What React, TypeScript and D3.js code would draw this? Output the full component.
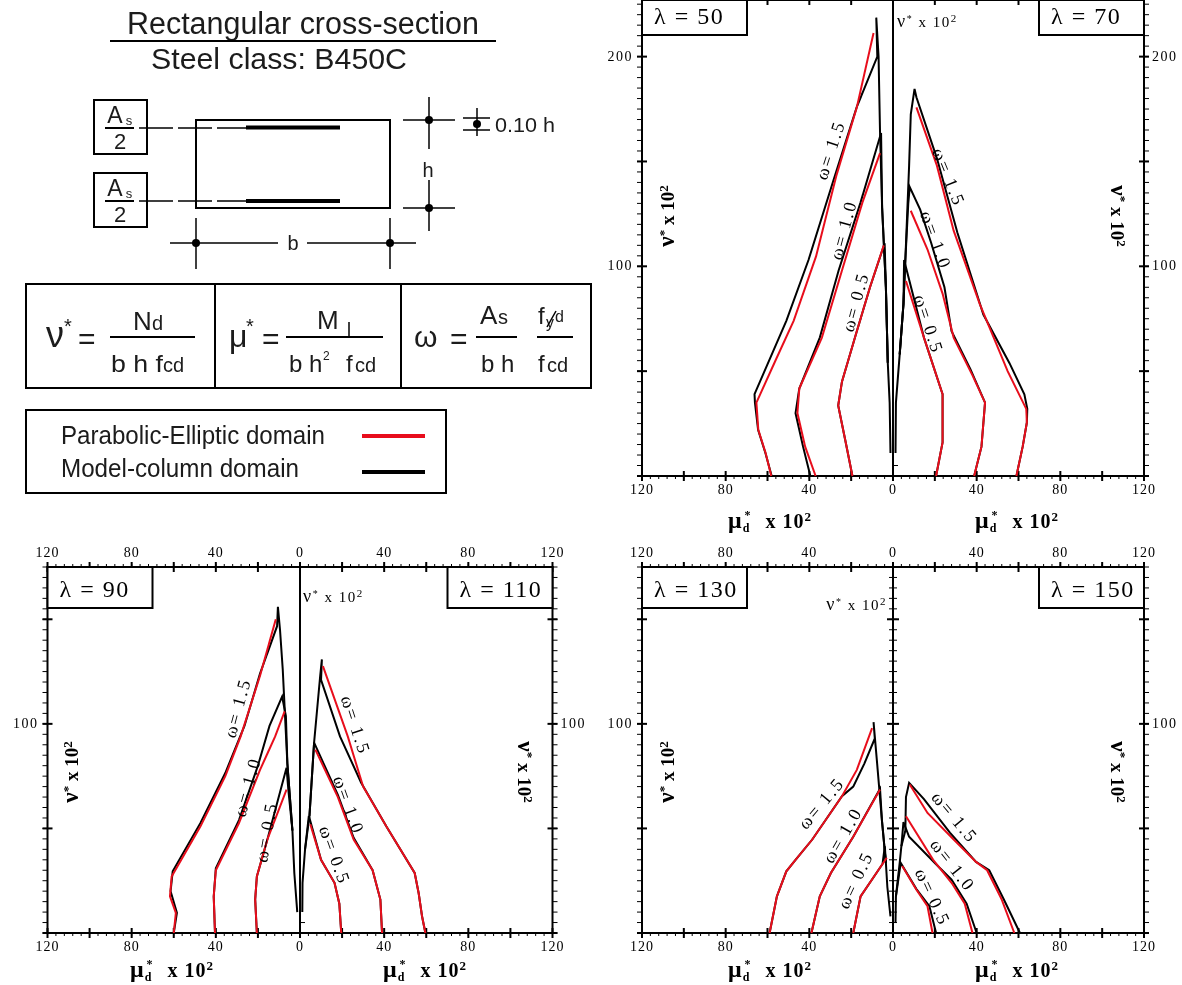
import { useEffect, useRef } from "react";
import * as d3 from "d3";

type Pt = [number, number];

// [mu x 100, nu x 100]. Black curves run up to the peak and back down near the axis.
const l50Black15: Pt[] = [[58, 0], [61, 11], [64.5, 22], [66, 35], [66.2, 39], [51, 74], [40.4, 103], [28.8, 140], [17.3, 176], [7.5, 200], [8, 218.6], [6.9, 200], [6.2, 164], [5.2, 128], [3.4, 90], [2.5, 54], [1.6, 35], [1.2, 11]];
const l50Red15: Pt[] = [[58.2, 0], [60.9, 11], [64.4, 22], [65.3, 35], [56.4, 54.6], [47.5, 74], [36.8, 104.7], [27, 143.5], [17.3, 175.8], [9.3, 211.3]];
const l50Black10: Pt[] = [[39.5, 0], [43, 14], [46.6, 30], [44.8, 41.7], [35, 66], [26, 98], [15.5, 130.5], [5.7, 163.6], [5.2, 128], [3.4, 90], [2.5, 54]];
const l50Red10: Pt[] = [[37, 0], [42, 14], [45.7, 30], [44.8, 41.7], [34, 66], [24.4, 98], [14.6, 130.5], [6.2, 154]];
const l50Black05: Pt[] = [[19.4, 0], [22.6, 16], [26.2, 33.6], [24.4, 45], [17.3, 69], [11, 90], [4, 111], [3.4, 90], [2.5, 54]];
const l50Red05: Pt[] = [[19.4, 0], [22.6, 16], [26.2, 33.6], [24.4, 45], [17.3, 69], [11, 90], [4.4, 110]];

const l70Black15: Pt[] = [[59, 0], [62, 14], [64, 25.5], [64.2, 32], [62.8, 39], [55.7, 53.8], [43.2, 77], [30.8, 116], [21, 151.5], [11.2, 180.6], [10.3, 184.6], [8.5, 172.5], [7.7, 148], [5.9, 103], [5, 82], [3.2, 58], [1.4, 35], [1.2, 11]];
const l70Red15: Pt[] = [[59, 0], [62, 14], [64, 25.5], [63.7, 32], [54.8, 50], [41.5, 82], [29, 117], [21, 148], [11.2, 175.8]];
const l70Black10: Pt[] = [[38.8, 0], [42.3, 14], [44, 35], [37, 51], [28, 69], [24.6, 90], [18.3, 111], [13, 127], [8, 137.8], [7.3, 130], [5.9, 103], [5, 82], [3.2, 58]];
const l70Red10: Pt[] = [[38.8, 0], [42.3, 14], [44, 35], [38, 48], [29, 66], [23.7, 87], [16.5, 108], [8.5, 126.5]];
const l70Black05: Pt[] = [[20.6, 0], [23.7, 16], [23.7, 39], [14.8, 66], [5.3, 103], [5, 82], [3.2, 58]];
const l70Red05: Pt[] = [[20.6, 0], [23.7, 16], [23.7, 39], [14.8, 66], [6.2, 93]];

const l90Black15: Pt[] = [[60, 0], [58.5, 9.6], [61.5, 20], [60.5, 29.5], [47.3, 52.6], [35.5, 76.5], [26.4, 99], [19, 124], [10.9, 146.7], [10.5, 156], [9.5, 145], [8.2, 126], [6, 81], [3.6, 49], [2.7, 28.7], [1.3, 10]];
const l90Red15: Pt[] = [[60, 0], [59, 9.6], [61.8, 17.5], [61, 27], [47.3, 51], [35.5, 75], [28.2, 94], [19, 123], [11.5, 150]];
const l90Black10: Pt[] = [[40.4, 0], [41, 17.5], [40, 31], [29, 54], [20, 80], [14.5, 99], [8.5, 113], [6.7, 103.7], [6, 81], [3.6, 49]];
const l90Red10: Pt[] = [[40.4, 0], [41, 17.5], [40, 30], [29, 52.6], [19, 78], [11.8, 94], [7.3, 106]];
const l90Black05: Pt[] = [[20.5, 0], [21.3, 16], [20.5, 27], [15.5, 44.7], [6.4, 79], [5.5, 68], [3.6, 49]];
const l90Red05: Pt[] = [[20.5, 0], [21.3, 16], [20.5, 27], [15.5, 44.7], [6.4, 68.6]];

const l110Black15: Pt[] = [[59.6, 0], [58, 8], [56.4, 19], [54.5, 28.7], [41, 51], [29, 72], [19, 94], [10, 121], [10.4, 130.8], [9.6, 123], [6.7, 91], [4.5, 56], [2.4, 40], [1.2, 24], [1.1, 10]];
const l110Red15: Pt[] = [[59.6, 0], [58, 8], [56.4, 19], [54.5, 28.7], [41, 51], [30, 70], [22.7, 94], [10.9, 127.6]];
const l110Black10: Pt[] = [[39, 0], [38.2, 16], [34.5, 30], [25.5, 45.5], [18, 66], [6.7, 91], [5.5, 72], [4.5, 56]];
const l110Red10: Pt[] = [[39, 0], [38.2, 16], [34.5, 30], [25.5, 44.7], [18, 65], [7.3, 87.7]];
const l110Black05: Pt[] = [[19.6, 0], [18.7, 14], [16.4, 24], [10, 35], [4.2, 56], [2.4, 40]];
const l110Red05: Pt[] = [[19.6, 0], [18.7, 14], [16.4, 24], [10, 35], [4.9, 52]];

const l130Black15: Pt[] = [[59, 0], [55.5, 17.5], [51, 29.5], [46.6, 35], [38.6, 44.7], [24.4, 65.4], [19, 70], [13.7, 81], [8.7, 93], [9.3, 100.8], [7.5, 80], [5.3, 54], [3.4, 33.5], [2.7, 22], [1.2, 8]];
const l130Red15: Pt[] = [[59, 0], [55.5, 17.5], [51, 29.5], [46.6, 35], [38.6, 44.7], [24.4, 65.4], [17.3, 78], [10, 98]];
const l130Black10: Pt[] = [[39, 0], [35, 17.5], [29.7, 28.7], [19, 46], [6.2, 69], [5.3, 54], [3.4, 33.5]];
const l130Red10: Pt[] = [[39, 0], [35, 17.5], [29.7, 28.7], [19, 46], [6.2, 68.6]];
const l130Black05: Pt[] = [[19, 0], [15.5, 17.5], [5, 33], [3.9, 41.5], [3.4, 33.5]];
const l130Red05: Pt[] = [[19, 0], [15.5, 17.5], [3, 36]];

const l150Black15: Pt[] = [[60.7, 0], [53, 16], [46, 30], [39.7, 34], [27.2, 48], [14.8, 64], [7.7, 71.8], [6.2, 65], [5.9, 49], [4, 41.5], [3.2, 33.5], [1.4, 17.5], [1.2, 5]];
const l150Red15: Pt[] = [[58, 0], [52, 16], [45, 30], [39.7, 34], [29, 44.7], [16.5, 57.4], [8, 71]];
const l150Black10: Pt[] = [[40, 0], [35.2, 14], [28, 25.5], [20, 33.5], [7.7, 46], [5, 53], [4, 41.5]];
const l150Red10: Pt[] = [[38, 0], [34.3, 14], [28, 24], [19.2, 35], [6.2, 55.8]];
const l150Black05: Pt[] = [[20.6, 0], [17.4, 12.8], [11.2, 21], [3.7, 33.5], [1.4, 17.5]];
const l150Red05: Pt[] = [[18.9, 0], [16.5, 12.8], [11.2, 20.7], [4.4, 32]];

const muMajor = d3.range(-120, 121, 20);
const muMinor = d3.range(-120, 121, 4);
const muLabels = [-120, -80, -40, 0, 40, 80, 120];
const omegaNames = ["1.5", "1.0", "0.5"];
const legendNames = ["Parabolic-Elliptic domain", "Model-column domain"];
const legendColors = ["#e8111c", "#000"];

const halves = [
  { lambda: 50, sign: -1, black: [l50Black15, l50Black10, l50Black05], red: [l50Red15, l50Red10, l50Red05] },
  { lambda: 70, sign: 1, black: [l70Black15, l70Black10, l70Black05], red: [l70Red15, l70Red10, l70Red05] },
  { lambda: 90, sign: -1, black: [l90Black15, l90Black10, l90Black05], red: [l90Red15, l90Red10, l90Red05] },
  { lambda: 110, sign: 1, black: [l110Black15, l110Black10, l110Black05], red: [l110Red15, l110Red10, l110Red05] },
  { lambda: 130, sign: -1, black: [l130Black15, l130Black10, l130Black05], red: [l130Red15, l130Red10, l130Red05] },
  { lambda: 150, sign: 1, black: [l150Black15, l150Black10, l150Black05], red: [l150Red15, l150Red10, l150Red05] },
];

const panels = [
  {
    left: 642, right: 1144, top: 0, bottom: 476, yMax: 227, yLabels: [100, 200], topLabels: false, centerTicks: false,
    lambdas: [0, 1], boxH: 35, nu: [897, 27, "start"], yTitle: [667, 1118, 216], muTitle: [770, 1017, 523],
    omega: [[830, 150, -72], [843, 230, -75], [855, 302, -75], [949, 177, 68], [936, 240, 70], [929, 324, 72]],
  },
  {
    left: 47.5, right: 552.5, top: 567, bottom: 933, yMax: 175, yLabels: [100], topLabels: true, centerTicks: false,
    lambdas: [2, 3], boxH: 41, nu: [303, 602, "start"], yTitle: [71, 525, 772], muTitle: [172, 425, 972],
    omega: [[237, 708, -75], [247, 787, -75], [266, 832, -80], [356, 725, 72], [349, 805, 70], [335, 855, 70]],
  },
  {
    left: 642, right: 1144, top: 567, bottom: 933, yMax: 175, yLabels: [100], topLabels: true, centerTicks: true,
    lambdas: [4, 5], boxH: 41, nu: [887, 610, "end"], yTitle: [667, 1118, 772], muTitle: [770, 1017, 972],
    omega: [[821, 803, -50], [842, 835, -60], [855, 880, -65], [955, 817, 50], [953, 865, 52], [933, 897, 65]],
  },
];

const serif = "'Liberation Serif', serif";
const sans = "'Liberation Sans', sans-serif";

export default function App() {
  const svgRef = useRef<SVGSVGElement>(null);

  useEffect(() => {
    const svg = d3.select(svgRef.current);
    svg.selectAll("*").remove();

    svg
      .append("defs")
      .append("filter")
      .attr("id", "soft")
      .attr("filterUnits", "userSpaceOnUse")
      .attr("x", 0)
      .attr("y", 0)
      .attr("width", 1182)
      .attr("height", 985)
      .append("feGaussianBlur")
      .attr("stdDeviation", 0.6);

    const root = svg.append("g").attr("filter", "url(#soft)");

    panels.forEach((p) => {
      const g = root.append("g");
      const x = d3.scaleLinear().domain([-120, 120]).range([p.left, p.right]);
      const y = d3.scaleLinear().domain([0, p.yMax]).range([p.bottom, p.top]);
      const nuMajor = d3.range(0, p.yMax + 1, 50);
      const nuMinor = d3.range(0, p.yMax + 1, 5);

      const tick = (x1: number, y1: number, x2: number, y2: number, w: number) =>
        g.append("line").attr("x1", x1).attr("y1", y1).attr("x2", x2).attr("y2", y2).attr("stroke", "#000").attr("stroke-width", w);

      // frame and centre line
      g.append("rect")
        .attr("x", p.left)
        .attr("y", p.top)
        .attr("width", p.right - p.left)
        .attr("height", p.bottom - p.top)
        .attr("fill", "none")
        .attr("stroke", "#000")
        .attr("stroke-width", 2);
      tick(x(0), p.top, x(0), p.bottom, 2);

      // x ticks on both horizontal edges
      muMinor.forEach((m) => {
        tick(x(m), p.bottom, x(m), p.bottom + 3, 1);
        tick(x(m), p.top, x(m), p.top - 3, 1);
      });
      muMajor.forEach((m) => {
        tick(x(m), p.bottom - 5, x(m), p.bottom + 5, 2);
        tick(x(m), p.top - 5, x(m), p.top + 5, 2);
      });

      // y ticks on both sides
      nuMinor.forEach((n) => {
        tick(p.left - 5, y(n), p.left, y(n), 1);
        tick(p.right, y(n), p.right + 5, y(n), 1);
        if (p.centerTicks) tick(x(0) - 4, y(n), x(0) + 4, y(n), 1);
      });
      nuMajor.forEach((n) => {
        tick(p.left - 5, y(n), p.left + 5, y(n), 2);
        tick(p.right - 5, y(n), p.right + 5, y(n), 2);
        if (p.centerTicks) tick(x(0) - 6, y(n), x(0) + 6, y(n), 2);
      });
      if (!p.centerTicks) tick(x(0), y(5), x(0) + 5, y(5), 1);

      // tick labels
      muLabels.forEach((m) => {
        g.append("text")
          .attr("x", x(m))
          .attr("y", p.bottom + 18)
          .attr("text-anchor", "middle")
          .attr("font-family", serif)
          .attr("font-size", 14)
          .attr("letter-spacing", 1)
          .text(Math.abs(m));
        if (p.topLabels)
          g.append("text")
            .attr("x", x(m))
            .attr("y", p.top - 10)
            .attr("text-anchor", "middle")
            .attr("font-family", serif)
            .attr("font-size", 14)
            .attr("letter-spacing", 1)
            .text(Math.abs(m));
      });
      p.yLabels.forEach((n) => {
        g.append("text")
          .attr("x", p.left - 9)
          .attr("y", y(n) + 4)
          .attr("text-anchor", "end")
          .attr("font-family", serif)
          .attr("font-size", 14)
          .attr("letter-spacing", 1.5)
          .text(n);
        g.append("text")
          .attr("x", p.right + 8)
          .attr("y", y(n) + 4)
          .attr("font-family", serif)
          .attr("font-size", 14)
          .attr("letter-spacing", 1.5)
          .text(n);
      });

      // curves, black under red
      const line = d3.line<Pt>();
      p.lambdas.forEach((idx) => {
        const h = halves[idx];
        const toPx = (c: Pt[]) => c.map((d) => [x(h.sign * d[0]), y(d[1])] as Pt);
        h.black.forEach((c) => {
          g.append("path").attr("d", line(toPx(c))).attr("fill", "none").attr("stroke", "#000").attr("stroke-width", 2);
        });
        h.red.forEach((c) => {
          g.append("path").attr("d", line(toPx(c))).attr("fill", "none").attr("stroke", "#e8111c").attr("stroke-width", 2);
        });

        // lambda box
        const isLeft = h.sign < 0;
        const boxX = isLeft ? p.left : p.right - 105;
        g.append("rect")
          .attr("x", boxX)
          .attr("y", p.top)
          .attr("width", 105)
          .attr("height", p.boxH)
          .attr("fill", "#fff")
          .attr("stroke", "#000")
          .attr("stroke-width", 2);
        g.append("text")
          .attr("x", boxX + 12)
          .attr("y", p.top + p.boxH - 11)
          .attr("font-family", serif)
          .attr("font-size", 24)
          .attr("letter-spacing", 1.5)
          .text(`λ = ${h.lambda}`);
      });

      // omega labels
      p.omega.forEach((o, i) => {
        g.append("text")
          .attr("transform", `translate(${o[0]},${o[1]}) rotate(${o[2]})`)
          .attr("text-anchor", "middle")
          .attr("dy", "0.35em")
          .attr("font-family", serif)
          .attr("font-size", 18)
          .attr("letter-spacing", 2)
          .text(`ω= ${omegaNames[i % 3]}`);
      });

      // centre nu label
      const nu = g
        .append("text")
        .attr("x", p.nu[0])
        .attr("y", p.nu[1])
        .attr("text-anchor", p.nu[2] as string)
        .attr("font-family", serif)
        .attr("font-size", 15)
        .attr("letter-spacing", 1.5);
      nu.append("tspan").attr("font-size", 18).text("ν");
      nu.append("tspan").attr("dy", -5).attr("font-size", 10).text("*");
      nu.append("tspan").attr("dy", 5).text(" x 10");
      nu.append("tspan").attr("dy", -5).attr("font-size", 11).text("2");

      // rotated nu titles
      [
        [p.yTitle[0], -90],
        [p.yTitle[1], 90],
      ].forEach(([tx, rot]) => {
        const t = g
          .append("text")
          .attr("transform", `translate(${tx},${p.yTitle[2]}) rotate(${rot})`)
          .attr("text-anchor", "middle")
          .attr("dy", "0.35em")
          .attr("font-family", serif)
          .attr("font-weight", "bold")
          .attr("font-size", 19);
        t.append("tspan").attr("font-size", 23).text("ν");
        t.append("tspan").attr("dy", -6).attr("font-size", 13).text("*");
        t.append("tspan").attr("dy", 6).text(" x 10");
        t.append("tspan").attr("dy", -6).attr("font-size", 13).text("2");
      });

      // mu titles
      [p.muTitle[0], p.muTitle[1]].forEach((tx) => {
        const t = g
          .append("text")
          .attr("x", tx)
          .attr("y", p.muTitle[2] + 5)
          .attr("text-anchor", "middle")
          .attr("font-family", serif)
          .attr("font-weight", "bold")
          .attr("font-size", 20)
          .attr("letter-spacing", 1);
        t.append("tspan").attr("font-size", 24).text("μ");
        t.append("tspan").attr("dy", 4).attr("font-size", 12).text("d");
        t.append("tspan").attr("dx", -6).attr("dy", -13).attr("font-size", 12).text("*");
        t.append("tspan").attr("dx", 14).attr("dy", 9).text("x 10");
        t.append("tspan").attr("dy", -7).attr("font-size", 13).text("2");
      });
    });

    // top-left: section sketch, definitions and legend
    const g = root.append("g");
    const label = (
      tx: number,
      ty: number,
      s: string,
      size: number,
      anchor = "start",
      len?: number,
    ) => {
      const t = g
        .append("text")
        .attr("x", tx)
        .attr("y", ty)
        .attr("font-family", sans)
        .attr("font-size", size)
        .attr("text-anchor", anchor)
        .attr("fill", "#1a1a1a")
        .text(s);
      if (len) t.attr("textLength", len).attr("lengthAdjust", "spacingAndGlyphs");
      return t;
    };
    const seg = (x1: number, y1: number, x2: number, y2: number, w = 1.5, color = "#000", dash?: string) => {
      const l = g.append("line").attr("x1", x1).attr("y1", y1).attr("x2", x2).attr("y2", y2).attr("stroke", color).attr("stroke-width", w);
      if (dash) l.attr("stroke-dasharray", dash);
    };
    const frame = (fx: number, fy: number, w: number, h: number, sw = 2) =>
      g.append("rect").attr("x", fx).attr("y", fy).attr("width", w).attr("height", h).attr("fill", "none").attr("stroke", "#000").attr("stroke-width", sw);
    const dot = (cx: number, cy: number) => g.append("circle").attr("cx", cx).attr("cy", cy).attr("r", 4).attr("fill", "#000");

    label(303, 34, "Rectangular cross-section", 31, "middle", 352);
    seg(110, 41, 496, 41, 2);
    label(279, 69, "Steel class: B450C", 29, "middle", 256);

    frame(196, 120, 194, 88);
    [128, 201].forEach((by, i) => {
      const ty = by - 28;
      frame(94, ty, 53, 54);
      label(115, ty + 23, "A", 23, "middle");
      label(129, ty + 25, "s", 13, "middle");
      seg(105, by, 134, by, 2);
      label(120, ty + 49, "2", 22, "middle");
      seg(139, by, 246, by, 1.5, "#000", "34 5");
      seg(246, by - (i === 0 ? 0.5 : 0), 340, by - (i === 0 ? 0.5 : 0), 4);
    });

    seg(429, 97, 429, 149);
    seg(403, 120, 455, 120);
    dot(429, 120);
    label(428, 177, "h", 20, "middle");
    seg(429, 180, 429, 231);
    seg(403, 208, 455, 208);
    dot(429, 208);

    seg(477, 108, 477, 136);
    seg(463, 118, 490, 118);
    seg(463, 130, 490, 130);
    dot(477, 124);
    label(495, 132, "0.10 h", 21, "start", 60);

    seg(170, 243, 278, 243);
    seg(307, 243, 416, 243);
    label(293, 250, "b", 20, "middle");
    seg(196, 218, 196, 269);
    seg(390, 218, 390, 269);
    dot(196, 243);
    dot(390, 243);

    // definitions table
    frame(26, 284, 565, 104);
    seg(215, 284, 215, 388, 2);
    seg(401, 284, 401, 388, 2);

    label(46, 347, "ν", 36);
    label(64, 333, "*", 20);
    label(78, 349, "=", 30);
    seg(110, 337, 195, 337, 2);
    label(133, 330, "N", 26);
    label(152, 330, "d", 20);
    label(111, 372, "b h f", 24, "start", 52);
    label(163, 372, "cd", 20);

    label(229, 347, "μ", 32);
    label(246, 333, "*", 20);
    label(262, 349, "=", 30);
    seg(286, 337, 383, 337, 2);
    label(317, 329, "M", 26);
    seg(349, 322, 349, 338, 1.5);
    label(289, 372, "b h", 24);
    label(323, 360, "2", 12);
    label(346, 372, "f", 24);
    label(355, 372, "cd", 20);

    label(414, 347, "ω", 30);
    label(450, 349, "=", 30);
    seg(476, 337, 517, 337, 2);
    label(480, 324, "A", 26);
    label(498, 324, "s", 20);
    label(481, 372, "b h", 24);
    seg(537, 337, 573, 337, 2);
    label(538, 324, "f", 24);
    label(546, 328, "y", 16);
    label(555, 322, "d", 16);
    seg(547, 327, 556, 311, 1.5);
    label(538, 372, "f", 24);
    label(547, 372, "cd", 20);

    // legend
    frame(26, 410, 420, 83);
    legendNames.forEach((name, i) => {
      label(61, 444 + i * 33, name, 25, "start", i === 0 ? 264 : 238);
      seg(362, 436 + i * 36, 425, 436 + i * 36, 4, legendColors[i]);
    });
  }, []);

  return (
    <svg ref={svgRef} width={1182} height={985} style={{ position: "absolute", left: 0, top: 0 }} />
  );
}
